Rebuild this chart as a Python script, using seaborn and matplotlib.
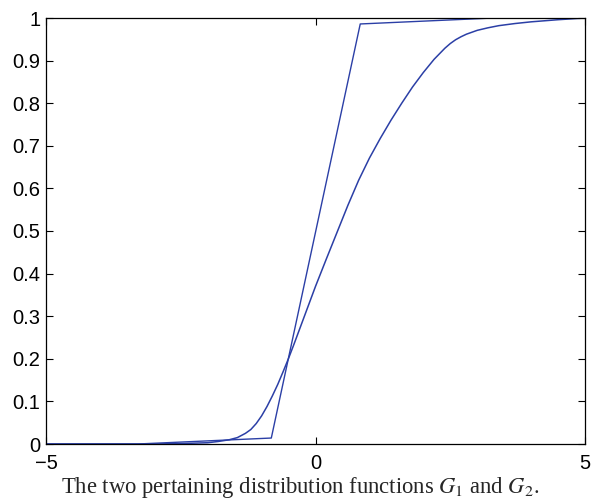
import numpy as np
import pandas as pd
import matplotlib
matplotlib.use("Agg")
import matplotlib.pyplot as plt
import seaborn as sns

# piecewise linear distribution function (G1)
g1_x = [-5.0, -3.3, -0.82, 0.83, 3.3, 5.0]
g1_y = [0.0, 0.0, 0.014, 0.986, 1.0, 1.0]

# smooth distribution function (G2)
g2_x = [-5.0, -3.0, -2.5, -2.0, -1.8, -1.6, -1.45, -1.3, -1.2, -1.1, -1.0,
        -0.9, -0.8, -0.7, -0.6, -0.5, -0.4, -0.3, -0.2, -0.1, 0.0,
        0.2, 0.4, 0.6, 0.8, 1.0, 1.2, 1.4, 1.6, 1.8, 2.0, 2.2, 2.4,
        2.5, 2.6, 2.7, 2.8, 3.0, 3.2, 3.4, 3.7, 4.0, 4.5, 5.0]
g2_y = [0.0, 0.0, 0.001, 0.003, 0.006, 0.010, 0.015, 0.025, 0.034, 0.048, 0.066,
        0.088, 0.113, 0.140, 0.170, 0.201, 0.234, 0.268, 0.302, 0.336, 0.370,
        0.434, 0.497, 0.560, 0.619, 0.671, 0.717, 0.760, 0.800, 0.838, 0.872,
        0.903, 0.929, 0.940, 0.949, 0.956, 0.962, 0.971, 0.977, 0.982, 0.987,
        0.991, 0.996, 1.0]

x_ticks = [-5, 0, 5]
y_ticks = [0, 0.1, 0.2, 0.3, 0.4, 0.5, 0.6, 0.7, 0.8, 0.9, 1.0]
y_labels = ["0", "0.1", "0.2", "0.3", "0.4", "0.5", "0.6", "0.7", "0.8", "0.9", "1"]
caption = "The two pertaining distribution functions $G_1$ and $G_2$."

sns.set_style("ticks")
plt.rcParams["font.family"] = ["Liberation Sans", "DejaVu Sans"]
plt.rcParams["mathtext.fontset"] = "stix"

line_color = "#2b3fa6"

fig = plt.figure(figsize=(5.92, 5.0), dpi=100)
ax = fig.add_axes([46 / 592, 1 - 444 / 500, 539 / 592, 426 / 500])

df1 = pd.DataFrame({"x": g1_x, "y": g1_y})
df2 = pd.DataFrame({"x": g2_x, "y": g2_y})
sns.lineplot(data=df1, x="x", y="y", ax=ax, color=line_color, lw=1.0,
             sort=False, estimator=None)
sns.lineplot(data=df2, x="x", y="y", ax=ax, color=line_color, lw=1.1,
             sort=False, estimator=None)

ax.set_xlim(-5, 5)
ax.set_ylim(0, 1)
ax.set_xticks(x_ticks)
ax.set_yticks(y_ticks)
ax.set_yticklabels(y_labels)
ax.set_xlabel("")
ax.set_ylabel("")
ax.tick_params(direction="in", top=True, right=True, length=5, width=0.8,
               labelsize=14.5, colors="black", pad=4)
ax.tick_params(axis="x", pad=7)
for s in ax.spines.values():
    s.set_visible(True)
    s.set_color("black")
    s.set_linewidth(0.9)

fig.text(300 / 592, 1 - 488 / 500, caption, ha="center", va="center",
         fontsize=16.3, family=["Liberation Serif", "DejaVu Serif"])

fig.savefig("out.png", dpi=100)
